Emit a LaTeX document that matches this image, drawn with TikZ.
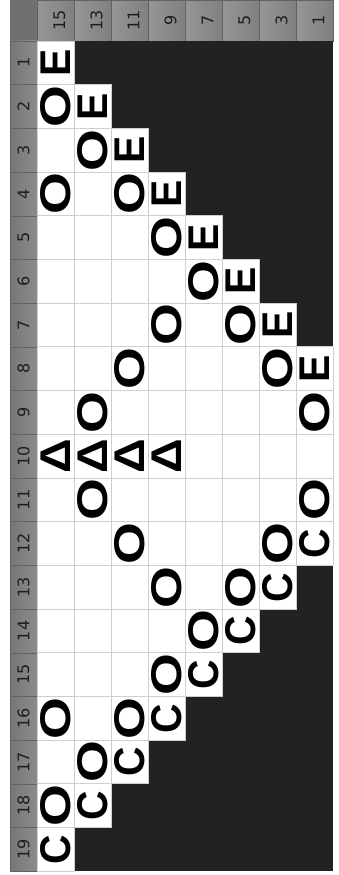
\documentclass[tikz,border=0pt]{standalone}
\usepackage{fontspec}
\usepackage{graphicx}
\setmainfont{DejaVu Sans}
\newfontfamily\glyphfam{Liberation Sans}
\definecolor{darkcell}{HTML}{222222}
\definecolor{gridgray}{HTML}{CFCFCF}
\definecolor{hdrA}{HTML}{969696}
\definecolor{hdrB}{HTML}{808080}
\definecolor{rowA}{HTML}{767676}
\definecolor{rowB}{HTML}{8C8C8C}
\definecolor{corner}{HTML}{707070}
\definecolor{hdrline}{HTML}{626262}
\definecolor{lbl}{HTML}{1E1E1E}
\newcommand\glyphfont{\glyphfam\fontsize{43}{43}\selectfont\bfseries}
\newcommand\mkcell[3]{\node[wcell] (c#2-#1) at ({37*#1+18.5},{41+43.7*(#2-1)+21.85}) {#3};}
\newcommand\cellD[2]{}
\newcommand\cellN[2]{\mkcell{#1}{#2}{}}
\newcommand\cellO[2]{\mkcell{#1}{#2}{\scalebox{1.25}[1]{O}}}
\newcommand\cellE[2]{\mkcell{#1}{#2}{\scalebox{0.95}[1]{E}}}
\newcommand\cellC[2]{\mkcell{#1}{#2}{\scalebox{0.95}[1]{C}}}
\newcommand\cellT[2]{\mkcell{#1}{#2}{\scalebox{1.12}[1]{Δ}}}
\begin{document}
\begin{tikzpicture}[x=1pt,y=-1pt,
  wcell/.style={draw=gridgray, line width=0.9pt, fill=white, rotate=90,
    minimum width=43.7pt, minimum height=37pt, inner sep=0pt, font=\glyphfont, text=black},
  colhead/.style={draw=hdrline, line width=0.5pt, left color=hdrA, right color=hdrB},
  rowhead/.style={draw=hdrline, line width=0.5pt, left color=rowA, right color=rowB},
  headlabel/.style={rotate=90, inner sep=0pt, text=lbl, font=\fontsize{16}{16}\selectfont}]
\useasboundingbox (0,0) rectangle (338,875);
\fill[white] (0,0) rectangle (338,875);
% corner
\fill[corner] (10,0) rectangle (37,41);
% column headers
\foreach \lab [count=\i] in {15,13,11,9,7,5,3,1} {
  \shade[colhead] ({37*\i},0) rectangle ({37*\i+37},41);
  \node[headlabel] (h\i) at ({37*\i+22.5},20.5) {\lab};
}
% row headers
\foreach \r in {1,...,19} {
  \shade[rowhead] (10,{41+43.7*(\r-1)}) rectangle (37,{41+43.7*\r});
  \node[headlabel] (r\r) at (23.5,{41+43.7*(\r-1)+21.85}) {\r};
}
% dark background of grid
\fill[darkcell] (37,41) rectangle (333,871.3);
% cells
\foreach \r/\cells in {
  1/{E,D,D,D,D,D,D,D},
  2/{O,E,D,D,D,D,D,D},
  3/{N,O,E,D,D,D,D,D},
  4/{O,N,O,E,D,D,D,D},
  5/{N,N,N,O,E,D,D,D},
  6/{N,N,N,N,O,E,D,D},
  7/{N,N,N,O,N,O,E,D},
  8/{N,N,O,N,N,N,O,E},
  9/{N,O,N,N,N,N,N,O},
  10/{T,T,T,T,N,N,N,N},
  11/{N,O,N,N,N,N,N,O},
  12/{N,N,O,N,N,N,O,C},
  13/{N,N,N,O,N,O,C,D},
  14/{N,N,N,N,O,C,D,D},
  15/{N,N,N,O,C,D,D,D},
  16/{O,N,O,C,D,D,D,D},
  17/{N,O,C,D,D,D,D,D},
  18/{O,C,D,D,D,D,D,D},
  19/{C,D,D,D,D,D,D,D}} {
  \foreach \v [count=\c] in \cells {
    \csname cell\v\endcsname{\c}{\r}
  }
}
\end{tikzpicture}
\end{document}
